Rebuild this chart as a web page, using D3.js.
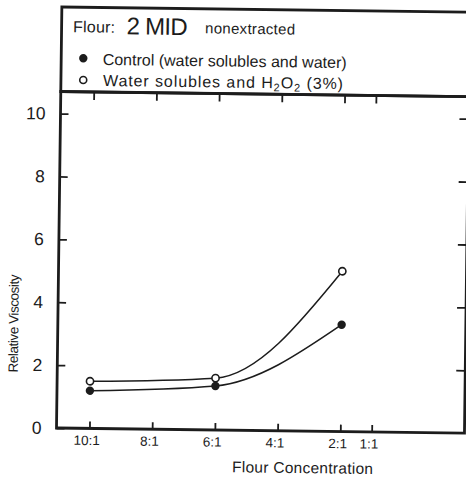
<!DOCTYPE html>
<html>
<head>
<meta charset="utf-8">
<script src="https://cdn.jsdelivr.net/npm/d3@7"></script>
<style>
  html, body { margin: 0; padding: 0; background: #fff; overflow: hidden; }
  svg { display: block; }
  text { font-family: "Liberation Sans", Arial, sans-serif; fill: #1c1c1c; }
</style>
</head>
<body>
<div id="chart"></div>
<script>
// Flour concentration (flour : liquid) ticks along the x axis
const ratioTicks  = [10, 8, 6, 4, 2, 1];
const ratioLabels = ["10:1", "8:1", "6:1", "4:1", "2:1", "1:1"];
// relative viscosity ticks
const viscTicks = [0, 2, 4, 6, 8, 10];

// measured points
const ratios       = [10, 6, 2];
const controlVisc  = [1.2, 1.4, 3.4];   // water solubles and water
const peroxideVisc = [1.5, 1.65, 5.1];  // water solubles and H2O2 (3%)

const W = 466, H = 479;
const margin = { top: 91.5, left: 56.5 },
      width  = 408,
      height = 336.5;
const ink = "#1c1c1c";

const svg = d3.select("#chart").append("svg")
  .attr("width", W).attr("height", H);

// the scanned page is a little bit tilted
const page = svg.append("g")
  .attr("transform", `rotate(0.73, ${margin.left}, ${margin.top + height})`);

const x = d3.scaleLinear().domain([11.05, -1.96]).range([0, width]);
const y = d3.scaleLinear().domain([0, 10.7]).range([height, 0]);

// header box
page.append("rect")
  .attr("x", margin.left).attr("y", 7)
  .attr("width", 440).attr("height", margin.top - 7)
  .attr("fill", "none").attr("stroke", ink).attr("stroke-width", 2.8);

page.append("text").attr("x", 68).attr("y", 32)
  .attr("font-size", 16).attr("textLength", 42).text("Flour:");
page.append("text").attr("x", 121.5).attr("y", 33.5)
  .attr("font-size", 24).attr("textLength", 61).text("2 MID");
page.append("text").attr("x", 200).attr("y", 31.5)
  .attr("font-size", 15).attr("textLength", 90).text("nonextracted");

page.append("circle").attr("cx", 78.6).attr("cy", 58).attr("r", 4.2).attr("fill", ink);
page.append("text").attr("x", 98).attr("y", 64.4)
  .attr("font-size", 16).attr("textLength", 244)
  .text("Control (water solubles and water)");

page.append("circle").attr("cx", 78.8).attr("cy", 79.7).attr("r", 3.5)
  .attr("fill", "#fff").attr("stroke", ink).attr("stroke-width", 1.6);
const t2 = page.append("text").attr("x", 98.6).attr("y", 85.4)
  .attr("font-size", 16).attr("textLength", 240);
t2.append("tspan").text("Water solubles and H");
t2.append("tspan").attr("font-size", 11).attr("dy", 3).text("2");
t2.append("tspan").attr("dy", -3).text("O");
t2.append("tspan").attr("font-size", 11).attr("dy", 3).text("2");
t2.append("tspan").attr("dy", -3).text(" (3%)");

// plot area
const g = page.append("g")
  .attr("transform", `translate(${margin.left},${margin.top})`);

const styleAxis = sel => {
  sel.select(".domain").remove();
  sel.selectAll(".tick line").attr("stroke", ink).attr("stroke-width", 1.8);
  sel.selectAll("text").attr("fill", ink).attr("font-family", "Liberation Sans, Arial, sans-serif");
};

g.append("g")
  .call(d3.axisLeft(y).tickValues(viscTicks).tickSizeInner(-8).tickSizeOuter(0).tickPadding(15))
  .call(styleAxis)
  .selectAll("text").attr("font-size", 17.5);

g.append("g")
  .attr("transform", `translate(${width},0)`)
  .call(d3.axisRight(y).tickValues(viscTicks.slice(1)).tickSizeInner(-9).tickSizeOuter(0).tickFormat(""))
  .call(styleAxis);

g.append("g")
  .attr("transform", `translate(0,${height})`)
  .call(d3.axisBottom(x).tickValues(ratioTicks).tickFormat((d, i) => ratioLabels[i])
    .tickSizeInner(-7).tickSizeOuter(0).tickPadding(7))
  .call(styleAxis)
  .selectAll("text").attr("font-size", 13.5).attr("dx", -3);

g.append("g")
  .call(d3.axisTop(x).tickValues(ratioTicks).tickSizeInner(-8).tickSizeOuter(0).tickFormat(""))
  .call(styleAxis);

// frame
g.append("rect")
  .attr("width", width).attr("height", height)
  .attr("fill", "none").attr("stroke", ink).attr("stroke-width", 2.8);

// axis titles
page.append("text")
  .attr("transform", "translate(17,324) rotate(-90)")
  .attr("text-anchor", "middle").attr("font-size", 13.5).attr("textLength", 98)
  .text("Relative Viscosity");

page.append("text")
  .attr("x", 303).attr("y", 470)
  .attr("text-anchor", "middle").attr("font-size", 15.5).attr("textLength", 141)
  .text("Flour Concentration");

// curves and points
const series = [
  { vals: controlVisc,  open: false },
  { vals: peroxideVisc, open: true }
];

const line = d3.line()
  .x(d => x(d[0]))
  .y(d => y(d[1]))
  .curve(d3.curveMonotoneX);

series.forEach(s => {
  const pts = ratios.map((r, i) => [r, s.vals[i]]);
  g.append("path")
    .datum(pts)
    .attr("d", line)
    .attr("fill", "none").attr("stroke", ink).attr("stroke-width", 1.5);

  g.selectAll(null)
    .data(pts)
    .enter().append("circle")
    .attr("cx", d => x(d[0]))
    .attr("cy", d => y(d[1]))
    .attr("r", s.open ? 3.6 : 4.2)
    .attr("fill", s.open ? "#fff" : ink)
    .attr("stroke", ink)
    .attr("stroke-width", s.open ? 1.6 : 0);
});
</script>
</body>
</html>
